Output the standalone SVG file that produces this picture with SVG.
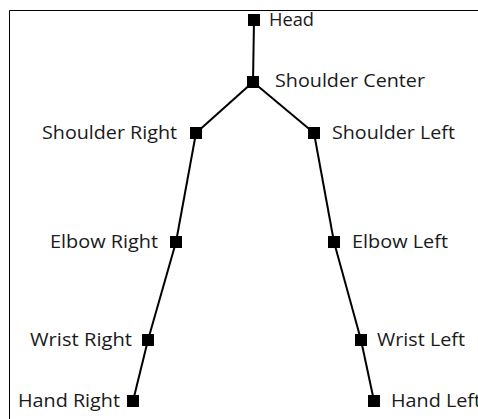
<svg xmlns="http://www.w3.org/2000/svg" width="478" height="419" viewBox="0 0 478 419">
<style>
.lbl{font-family:"Open Sans","Liberation Sans",sans-serif;font-size:18px;fill:#1a1a1a}
.bone{stroke:#000;stroke-width:2;fill:none}
.joint{fill:#000}
</style>
<rect width="478" height="419" fill="#fff"/>
<path d="M9.5 419 V10.5 H478" fill="none" stroke="#000" stroke-width="1"/>
<g id="connectors" class="bone">
<line x1="254" y1="20" x2="253" y2="82"/>
<line x1="253" y1="82" x2="196" y2="133"/>
<line x1="253" y1="82" x2="314" y2="133"/>
<line x1="196" y1="133" x2="176" y2="242"/>
<line x1="314" y1="133" x2="334" y2="242"/>
<line x1="176" y1="242" x2="148" y2="340"/>
<line x1="334" y1="242" x2="361" y2="340"/>
<line x1="148" y1="340" x2="133" y2="401"/>
<line x1="361" y1="340" x2="374" y2="401"/>
</g>
<g id="head"><rect class="joint" x="248" y="14" width="12" height="12"/><text class="lbl" x="269" y="26" textLength="45" lengthAdjust="spacingAndGlyphs">Head</text></g>
<g id="shoulder-center"><rect class="joint" x="247" y="76" width="12" height="12"/><text class="lbl" x="275" y="87" textLength="150" lengthAdjust="spacingAndGlyphs">Shoulder Center</text></g>
<g id="shoulder-right"><rect class="joint" x="190" y="127" width="12" height="12"/><text class="lbl" x="42" y="139" textLength="135" lengthAdjust="spacingAndGlyphs">Shoulder Right</text></g>
<g id="shoulder-left"><rect class="joint" x="308" y="127" width="12" height="12"/><text class="lbl" x="332" y="139" textLength="123" lengthAdjust="spacingAndGlyphs">Shoulder Left</text></g>
<g id="elbow-right"><rect class="joint" x="170" y="236" width="12" height="12"/><text class="lbl" x="50" y="248" textLength="108" lengthAdjust="spacingAndGlyphs">Elbow Right</text></g>
<g id="elbow-left"><rect class="joint" x="328" y="236" width="12" height="12"/><text class="lbl" x="352" y="248" textLength="96" lengthAdjust="spacingAndGlyphs">Elbow Left</text></g>
<g id="wrist-right"><rect class="joint" x="142" y="334" width="12" height="12"/><text class="lbl" x="30" y="346" textLength="102" lengthAdjust="spacingAndGlyphs">Wrist Right</text></g>
<g id="wrist-left"><rect class="joint" x="355" y="334" width="12" height="12"/><text class="lbl" x="377" y="346" textLength="88" lengthAdjust="spacingAndGlyphs">Wrist Left</text></g>
<g id="hand-right"><rect class="joint" x="127" y="395" width="12" height="12"/><text class="lbl" x="18" y="407" textLength="102" lengthAdjust="spacingAndGlyphs">Hand Right</text></g>
<g id="hand-left"><rect class="joint" x="368" y="395" width="12" height="12"/><text class="lbl" x="391" y="407" textLength="90" lengthAdjust="spacingAndGlyphs">Hand Left</text></g>
</svg>
